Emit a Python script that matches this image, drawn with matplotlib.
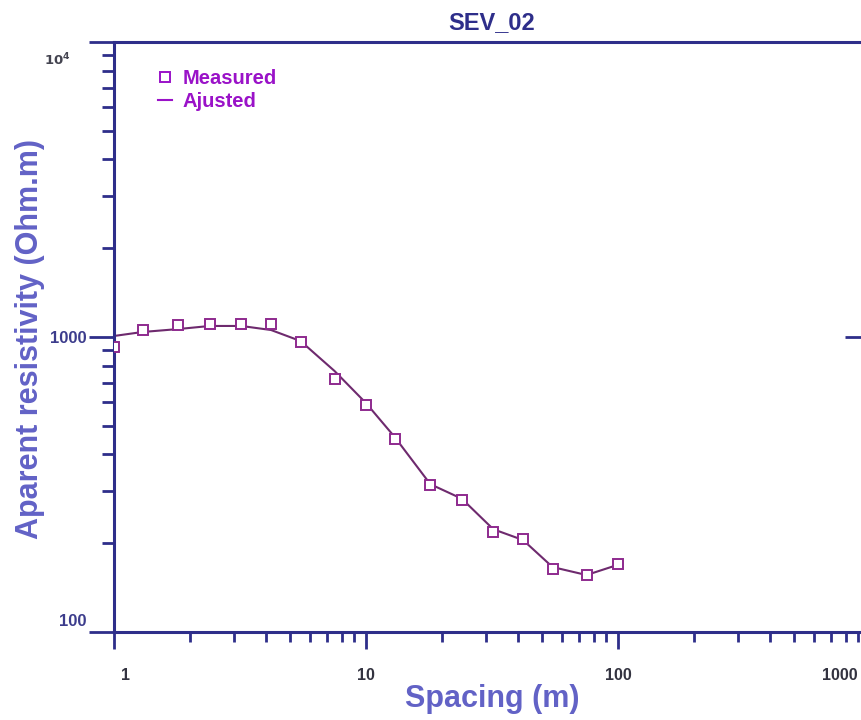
"""SEV_02 - curva de resistividade aparente (log-log)"""
import matplotlib
matplotlib.use("Agg")
from matplotlib import pyplot as plt
from matplotlib import transforms
from matplotlib.ticker import FixedLocator, NullFormatter, NullLocator

# espaçamento AB/2 (m)
spacing = [1.0, 1.3, 1.8, 2.4, 3.2, 4.2, 5.5, 7.5, 10, 13, 18, 24, 32, 42, 55, 75, 100]
# resistividade aparente medida (Ohm.m)
measured = [925, 1056, 1098, 1107, 1107, 1107, 962, 721, 588, 451, 315, 280, 218, 207, 164, 156, 170]
# curva ajustada
ajusted = [1008, 1040, 1064, 1090, 1090, 1056, 969, 767, 597, 458, 317, 283, 223, 205, 166, 156, 169]

x_ticks = [1, 10, 100, 1000]
x_tick_labels = ["1", "10", "100", "1000"]
y_ticks = [100, 1000, 10000]
y_tick_labels = ["100", "1000", r"$\mathbf{10^{4}}$"]

axis_col = "#2e2e8a"
label_col = "#6262c6"
point_col = "#8e2a8e"
line_col = "#6e2a6e"
legend_col = "#9a12c8"

plt.rcParams["font.family"] = ["Liberation Sans", "DejaVu Sans"]
plt.rcParams["font.weight"] = "bold"

fig = plt.figure(figsize=(8.61, 7.2), dpi=100)
ax = fig.add_axes([114 / 861, 88 / 720, 756 / 861, 590 / 720])
ax.set_xscale("log")
ax.set_yscale("log")
ax.set_xlim(1, 1000)
ax.set_ylim(100, 10000)

# curva ajustada e pontos medidos
ax.plot(spacing, ajusted, "-", color=line_col, lw=1.5, label="Ajusted", zorder=2)
ax.plot(spacing, measured, "s", ls="none", ms=6.5, mfc="white", mec=point_col,
        mew=1.4, label="Measured", zorder=3)

for s in ax.spines.values():
    s.set_color(axis_col)
    s.set_linewidth(2.2)

ax.xaxis.set_major_locator(FixedLocator(x_ticks))
ax.set_xticklabels(x_tick_labels)
ax.yaxis.set_major_locator(FixedLocator(y_ticks))
ax.set_yticklabels(y_tick_labels)
ax.yaxis.set_minor_formatter(NullFormatter())
ax.xaxis.set_minor_formatter(NullFormatter())

ax.tick_params(axis="x", which="major", direction="out", length=12, width=2,
               color=axis_col, pad=14, labelsize=11.5, labelcolor="#333340")
ax.tick_params(axis="x", which="minor", direction="out", length=7, width=2,
               color=axis_col)
ax.tick_params(axis="y", which="major", direction="out", length=18, width=2,
               color=axis_col, pad=2, labelsize=12, labelcolor="#3c3c8c")
ax.tick_params(axis="y", which="minor", direction="out", length=9, width=2,
               color=axis_col)

# marca no eixo direito (voltada para dentro)
sec = ax.secondary_yaxis("right")
sec.yaxis.set_major_locator(FixedLocator([1000]))
sec.yaxis.set_minor_locator(NullLocator())
sec.yaxis.set_major_formatter(NullFormatter())
sec.tick_params(which="major", direction="in", length=18, width=2, color=axis_col)
sec.spines["right"].set_visible(False)

# deslocamentos dos rótulos como no original
def shift(lbl, dx, dy):
    off = transforms.ScaledTranslation(dx / 72, dy / 72, fig.dpi_scale_trans)
    lbl.set_transform(lbl.get_transform() + off)

xl = ax.get_xticklabels()
shift(xl[0], 8, 0)
shift(xl[3], -22, 0)
yl = ax.get_yticklabels()
shift(yl[0], 0, 9)
shift(yl[2], -11, -12)
yl[2].set_fontsize(9.5)
yl[2].set_color("#444450")

ax.set_title("SEV_02", fontsize=17, fontweight="bold", color=axis_col, pad=9)
ax.set_xlabel("Spacing (m)", fontsize=22, fontweight="bold", color=label_col)
ax.set_ylabel("Aparent resistivity (Ohm.m)", fontsize=22, fontweight="bold",
              color=label_col)
ax.xaxis.set_label_coords(0.5, -0.088)
ax.yaxis.set_label_coords(-0.091, 0.497)

handles, labels = ax.get_legend_handles_labels()
leg = ax.legend(handles[::-1], labels[::-1], loc="upper left",
                bbox_to_anchor=(0.045, 0.972), frameon=False,
                handlelength=0.7, handletextpad=0.5, labelspacing=0.2,
                borderpad=0, labelcolor=legend_col, prop={"weight": "bold", "size": 14.5})
for h in leg.legend_handles:
    h.set_color(legend_col)
    try:
        h.set_markeredgecolor(legend_col)
    except AttributeError:
        pass

fig.savefig("out.png", dpi=100)
